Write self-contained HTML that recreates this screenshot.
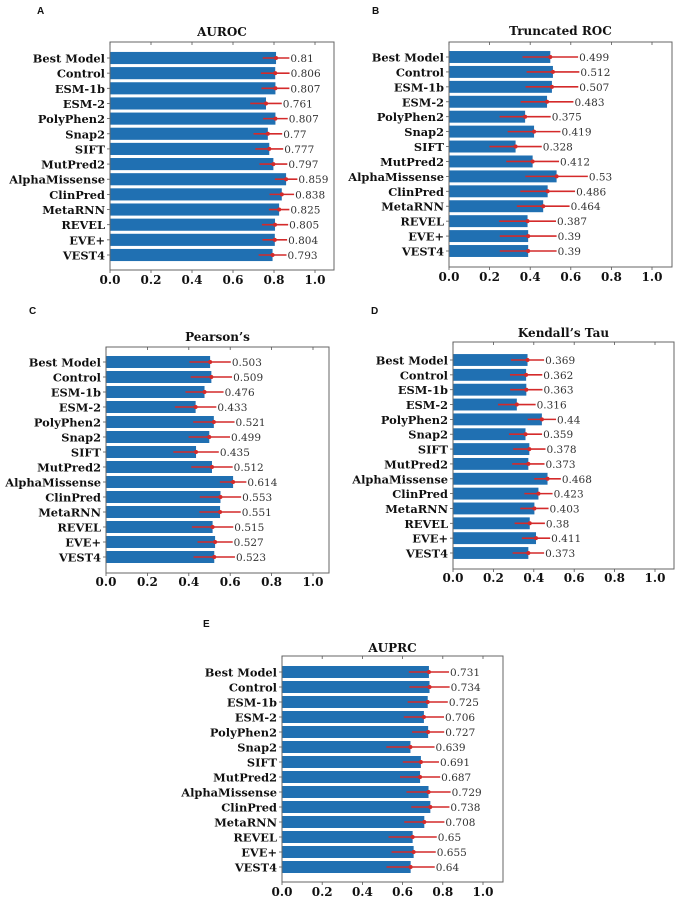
<!DOCTYPE html>
<html><head><meta charset="utf-8">
<style>
html,body{margin:0;padding:0;background:#fff;}
svg{display:block;}
.lab{font-family:"DejaVu Serif","Liberation Serif",serif;font-weight:bold;font-size:11.4px;fill:#111;}
.tick{font-family:"DejaVu Serif","Liberation Serif",serif;font-weight:bold;font-size:12px;fill:#111;}
.val{font-family:"DejaVu Serif","Liberation Serif",serif;font-size:10.5px;fill:#333;}
.ttl{font-family:"DejaVu Serif","Liberation Serif",serif;font-weight:bold;font-size:12px;fill:#111;}
.pl{font-family:"Liberation Sans",sans-serif;font-weight:bold;font-size:10px;fill:#111;}
</style></head>
<body>
<svg id="fig" width="678" height="901" viewBox="0 0 678 901"></svg>
<script>
const categories = ["Best Model","Control","ESM-1b","ESM-2","PolyPhen2","Snap2","SIFT","MutPred2","AlphaMissense","ClinPred","MetaRNN","REVEL","EVE+","VEST4"];
const tickValues = [0,0.2,0.4,0.6,0.8,1.0];
const tickLabels = ["0.0","0.2","0.4","0.6","0.8","1.0"];
const aurocValues = [0.81,0.806,0.807,0.761,0.807,0.77,0.777,0.797,0.859,0.838,0.825,0.805,0.804,0.793];
const aurocErrors = [0.065,0.07,0.068,0.077,0.06,0.07,0.068,0.068,0.055,0.06,0.05,0.064,0.06,0.068];
const truncValues = [0.499,0.512,0.507,0.483,0.375,0.419,0.328,0.412,0.53,0.486,0.464,0.387,0.39,0.39];
const truncErrors = [0.137,0.13,0.13,0.13,0.126,0.13,0.129,0.13,0.154,0.135,0.13,0.14,0.14,0.14];
const pearsonValues = [0.503,0.509,0.476,0.433,0.521,0.499,0.435,0.512,0.614,0.553,0.551,0.515,0.527,0.523];
const pearsonErrors = [0.1,0.1,0.092,0.1,0.1,0.1,0.11,0.1,0.064,0.1,0.1,0.1,0.085,0.1];
const kendallValues = [0.369,0.362,0.363,0.316,0.44,0.359,0.378,0.373,0.468,0.423,0.403,0.38,0.411,0.373];
const kendallErrors = [0.082,0.08,0.08,0.093,0.07,0.082,0.08,0.08,0.066,0.07,0.07,0.075,0.07,0.078];
const auprcValues = [0.731,0.734,0.725,0.706,0.727,0.639,0.691,0.687,0.729,0.738,0.708,0.65,0.655,0.64];
const auprcErrors = [0.1,0.1,0.1,0.1,0.08,0.12,0.09,0.1,0.11,0.095,0.1,0.12,0.11,0.12];

const panels = [
 {letter:"A",lx:37,ly:14,title:"AUROC",x0:110,x1:334,sc:205,top:42,bot:270,b0:58,bN:255,vals:aurocValues,errs:aurocErrors,ty:284,tty:36,id:"auroc"},
 {letter:"B",lx:372,ly:14,title:"Truncated ROC",x0:449,x1:672,sc:203,top:42,bot:267,b0:57,bN:251,vals:truncValues,errs:truncErrors,ty:281,tty:35,id:"truncated-roc"},
 {letter:"C",lx:29,ly:314,title:"Pearson\u2019s",x0:106,x1:329,sc:207,top:347,bot:573,b0:362,bN:557,vals:pearsonValues,errs:pearsonErrors,ty:586,tty:341,id:"pearson"},
 {letter:"D",lx:371,ly:314,title:"Kendall\u2019s Tau",x0:453,x1:674,sc:202,top:342,bot:569,b0:360,bN:553,vals:kendallValues,errs:kendallErrors,ty:582,tty:337,id:"kendall-tau"},
 {letter:"E",lx:203,ly:627,title:"AUPRC",x0:282,x1:503,sc:201,top:656,bot:882,b0:672,bN:867,vals:auprcValues,errs:auprcErrors,ty:896,tty:652,id:"auprc"}
];
const NS="http://www.w3.org/2000/svg";
const fig=document.getElementById('fig');
function mk(tag,attrs,parent,text){const e=document.createElementNS(NS,tag);for(const k in attrs)e.setAttribute(k,attrs[k]);if(text!==undefined)e.textContent=text;parent.appendChild(e);return e;}
panels.forEach(p=>{
  const g=mk('g',{},fig);
  
  
  const xs=v=>p.x0+v*p.sc;
  const step=(p.bN-p.b0)/(categories.length-1);
  const ys=i=>p.b0+i*step;
  const bh=step*0.8;
  const pl=mk('text',{x:p.lx,y:p.ly,class:'pl'},g,p.letter);
  
  
  const t=mk('text',{x:(p.x0+p.x1)/2,y:p.tty,class:'ttl','text-anchor':'middle'},g,p.title);
  
  
  categories.forEach((c,i)=>{
    const y=ys(i),v=p.vals[i],e=p.errs[i];
    const r=mk('rect',{x:p.x0,y:y-bh/2,width:xs(v)-p.x0,height:bh,fill:'#2070b2'},g);
    
    
    const l=mk('line',{x1:xs(v-e),x2:xs(v+e),y1:y,y2:y,stroke:'#d42a2a','stroke-width':1.6},g);
    
    
    const d=mk('circle',{cx:xs(v),cy:y,r:2,fill:'#d42a2a'},g);
    
    
    const vt=mk('text',{x:xs(v+e)+1,y:y+4,class:'val'},g,String(v));
    
    
    const ct=mk('text',{x:p.x0-5,y:y+4.5,class:'lab','text-anchor':'end'},g,c);
    
    
    mk('line',{x1:p.x0-3,x2:p.x0,y1:y,y2:y,stroke:'#555','stroke-width':0.8},g);
  });
  const box=mk('rect',{x:p.x0,y:p.top,width:p.x1-p.x0,height:p.bot-p.top,fill:'none',stroke:'#666','stroke-width':1},g);
  
  
  tickValues.forEach((tv,k)=>{
    const x=xs(tv);
    mk('line',{x1:x,x2:x,y1:p.bot,y2:p.bot+3,stroke:'#555','stroke-width':0.8},g);
    mk('line',{x1:x,x2:x,y1:p.top,y2:p.top+3,stroke:'#555','stroke-width':0.8},g);
    const tl=mk('text',{x:x,y:p.ty,class:'tick','text-anchor':'middle'},g,tickLabels[k]);
    
    
  });
});
</script>
</body></html>
